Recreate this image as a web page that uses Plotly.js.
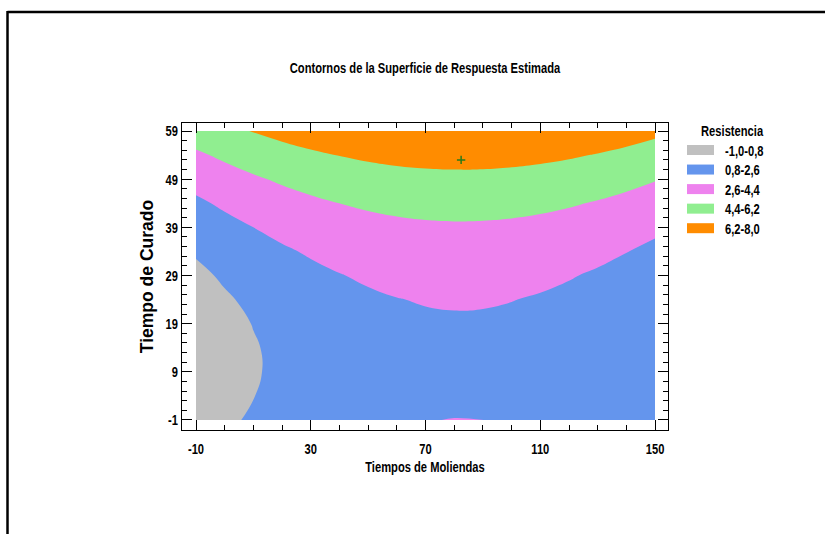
<!DOCTYPE html>
<html>
<head>
<meta charset="utf-8">
<script src="https://cdn.plot.ly/plotly-3.0.1.min.js"></script>
<style>
  html, body { margin: 0; padding: 0; background: #ffffff; }
  #chart { width: 825px; height: 534px; }
</style>
</head>
<body>
<div id="chart"></div>
<script>
// ---- Data ----
const xVals = [-10, 0, 10, 20, 30, 40, 50, 60, 70, 80, 90, 100, 110, 120, 130, 140, 150];
const yVals = [-1, 4, 9, 14, 19, 24, 29, 34, 39, 44, 49, 54, 59];
// Estimated Resistencia values on the grid (rows follow yVals, columns follow xVals)
const zRow_m1 = [-0.021, 0.522, 1.003, 1.421, 1.776, 2.070, 2.301, 2.469, 2.575, 2.619, 2.602, 2.527, 2.394, 2.204, 1.956, 1.651, 1.288];
const zRow_4  = [-0.254, 0.289, 0.770, 1.188, 1.543, 1.837, 2.068, 2.236, 2.342, 2.386, 2.369, 2.294, 2.161, 1.971, 1.723, 1.418, 1.055];
const zRow_9  = [-0.350, 0.193, 0.674, 1.092, 1.447, 1.741, 1.972, 2.140, 2.246, 2.290, 2.273, 2.198, 2.065, 1.875, 1.627, 1.322, 0.959];
const zRow_14 = [-0.326, 0.217, 0.698, 1.116, 1.471, 1.765, 1.996, 2.164, 2.270, 2.314, 2.297, 2.222, 2.089, 1.899, 1.651, 1.346, 0.983];
const zRow_19 = [-0.183, 0.360, 0.841, 1.259, 1.614, 1.908, 2.139, 2.307, 2.413, 2.457, 2.440, 2.365, 2.232, 2.042, 1.794, 1.489, 1.126];
const zRow_24 = [0.079, 0.622, 1.103, 1.521, 1.876, 2.170, 2.401, 2.569, 2.675, 2.719, 2.702, 2.627, 2.494, 2.304, 2.056, 1.751, 1.388];
const zRow_29 = [0.460, 1.003, 1.484, 1.902, 2.257, 2.551, 2.782, 2.950, 3.056, 3.100, 3.083, 3.008, 2.875, 2.685, 2.437, 2.132, 1.769];
const zRow_34 = [0.959, 1.502, 1.983, 2.401, 2.756, 3.050, 3.281, 3.449, 3.555, 3.599, 3.582, 3.507, 3.374, 3.184, 2.936, 2.631, 2.268];
const zRow_39 = [1.578, 2.121, 2.602, 3.020, 3.375, 3.669, 3.900, 4.068, 4.174, 4.218, 4.201, 4.126, 3.993, 3.803, 3.555, 3.250, 2.887];
const zRow_44 = [2.316, 2.859, 3.340, 3.758, 4.113, 4.407, 4.638, 4.806, 4.912, 4.956, 4.939, 4.864, 4.731, 4.541, 4.293, 3.988, 3.625];
const zRow_49 = [3.173, 3.716, 4.197, 4.615, 4.970, 5.264, 5.495, 5.663, 5.769, 5.813, 5.796, 5.721, 5.588, 5.398, 5.150, 4.845, 4.482];
const zRow_54 = [4.149, 4.692, 5.173, 5.591, 5.946, 6.240, 6.471, 6.639, 6.745, 6.789, 6.772, 6.697, 6.564, 6.374, 6.126, 5.821, 5.458];
const zRow_59 = [5.243, 5.786, 6.267, 6.685, 7.040, 7.334, 7.565, 7.733, 7.839, 7.883, 7.866, 7.791, 7.658, 7.468, 7.220, 6.915, 6.552];

const levelBreaks = [-1.0, 0.8, 2.6, 4.4, 6.2, 8.0];
const legendLabels = ['-1,0-0,8', '0,8-2,6', '2,6-4,4', '4,4-6,2', '6,2-8,0'];
const bandColors = ['#C0C0C0', '#6495ED', '#EE82EE', '#90EE90', '#FF8C00'];
const optimumX = [82.4];
const optimumY = [53.0];

const xTickVals = [-10, 30, 70, 110, 150];
const xTickLabels = ['-10', '30', '70', '110', '150'];
const yTickVals = [-1, 9, 19, 29, 39, 49, 59];
const yTickLabels = ['-1', '9', '19', '29', '39', '49', '59'];

const chartTitle = 'Contornos de la Superficie de Respuesta Estimada';
const xTitle = 'Tiempos de Moliendas';
const yTitle = 'Tiempo de Curado';
const legendTitle = 'Resistencia';

// ---- Build ----
const zGrid = [zRow_m1, zRow_4, zRow_9, zRow_14, zRow_19, zRow_24, zRow_29, zRow_34, zRow_39, zRow_44, zRow_49, zRow_54, zRow_59];

const W = 825, H = 534;
const M = { l: 182, r: 157, t: 123, b: 104 };
const plotW = W - M.l - M.r, plotH = H - M.t - M.b;
const px2x = p => (p - M.l) / plotW;
const py2y = p => (H - M.b - p) / plotH;

const nb = bandColors.length;
const colorscale = [];
bandColors.forEach((c, i) => {
  colorscale.push([i / nb, c]);
  colorscale.push([(i + 1) / nb, c]);
});

const base = 'Liberation Sans, Arial, sans-serif';
const smallFont = { family: base, size: 15.5, color: '#000', weight: 'bold' };
const CONDENSE = 0.72;

const contour = {
  type: 'contour',
  x: xVals, y: yVals, z: zGrid,
  zmin: levelBreaks[0], zmax: levelBreaks[levelBreaks.length - 1],
  autocontour: false,
  contours: {
    start: levelBreaks[0],
    end: levelBreaks[levelBreaks.length - 1],
    size: levelBreaks[1] - levelBreaks[0],
    coloring: 'fill', showlines: false
  },
  line: { width: 0, smoothing: 1.3 },
  colorscale: colorscale,
  showscale: false,
  hoverinfo: 'skip'
};

const marker = {
  type: 'scatter', mode: 'markers',
  x: optimumX, y: optimumY,
  marker: { symbol: 'cross-thin', size: 6, line: { width: 1.5, color: '#2a7a1a' } },
  showlegend: false, hoverinfo: 'skip'
};

const shapes = [];
const annotations = [];

// Outer page border (top and left)
shapes.push({ type: 'line', xref: 'paper', yref: 'paper', x0: px2x(7.5), x1: px2x(830), y0: py2y(12), y1: py2y(12), line: { color: '#000', width: 2.5 } });
shapes.push({ type: 'line', xref: 'paper', yref: 'paper', x0: px2x(7.5), x1: px2x(7.5), y0: py2y(11), y1: py2y(540), line: { color: '#000', width: 2.5 } });

// Legend
annotations.push({ xref: 'paper', yref: 'paper', x: px2x(732), y: py2y(130), xanchor: 'center', yanchor: 'middle', align: 'center', showarrow: false, text: legendTitle, font: smallFont });
legendLabels.forEach((lab, i) => {
  const cy = 150 + i * 19.55;
  shapes.push({ type: 'rect', xref: 'paper', yref: 'paper', x0: px2x(687), x1: px2x(714), y0: py2y(cy - 5), y1: py2y(cy + 5), fillcolor: bandColors[i], line: { width: 0 } });
  annotations.push({ xref: 'paper', yref: 'paper', x: px2x(722.5), y: py2y(cy), xanchor: 'left', yanchor: 'middle', align: 'left', showarrow: false, text: lab, font: smallFont });
});

const layout = {
  width: W, height: H,
  margin: M,
  paper_bgcolor: '#fff', plot_bgcolor: '#fff',
  showlegend: false,
  title: { text: chartTitle, xref: 'paper', x: 0.5, xanchor: 'center', yref: 'container', y: 1 - 68 / H, yanchor: 'middle', font: smallFont },
  xaxis: {
    range: [-14.88, 154.5], tickmode: 'array', tickvals: xTickVals, ticktext: xTickLabels,
    ticks: 'inside', ticklen: 10, tickwidth: 1, tickcolor: '#000', ticklabelstandoff: 4,
    showline: true, linecolor: '#000', linewidth: 1, mirror: 'allticks',
    showgrid: false, zeroline: false, tickfont: smallFont,
    minor: { tick0: -10, dtick: 10, ticks: 'inside', ticklen: 5, tickwidth: 1, tickcolor: '#000', showgrid: false },
    title: { text: xTitle, standoff: 5, font: smallFont }
  },
  yaxis: {
    range: [-3.08, 60.66], tickmode: 'array', tickvals: yTickVals, ticktext: yTickLabels,
    ticks: 'inside', ticklen: 10, tickwidth: 1, tickcolor: '#000',
    showline: true, linecolor: '#000', linewidth: 1, mirror: 'allticks',
    showgrid: false, zeroline: false, tickfont: smallFont,
    minor: { tick0: -1, dtick: 2, ticks: 'inside', ticklen: 5, tickwidth: 1, tickcolor: '#000', showgrid: false },
    title: { text: yTitle, standoff: 2, font: { family: base, size: 17.5, color: '#000', weight: 'bold' } }
  },
  shapes: shapes,
  annotations: annotations
};

Plotly.newPlot('chart', [contour, marker], layout, { displayModeBar: false, staticPlot: true }).then(gd => {
  // The reference uses a horizontally condensed bold face: condense those texts
  gd.querySelectorAll('svg text').forEach(t => {
    if (t.classList.contains('ytitle')) return;
    const L = t.getComputedTextLength();
    if (L > 0) {
      t.setAttribute('textLength', (L * CONDENSE).toFixed(2));
      t.setAttribute('lengthAdjust', 'spacingAndGlyphs');
    }
  });
});
</script>
</body>
</html>
